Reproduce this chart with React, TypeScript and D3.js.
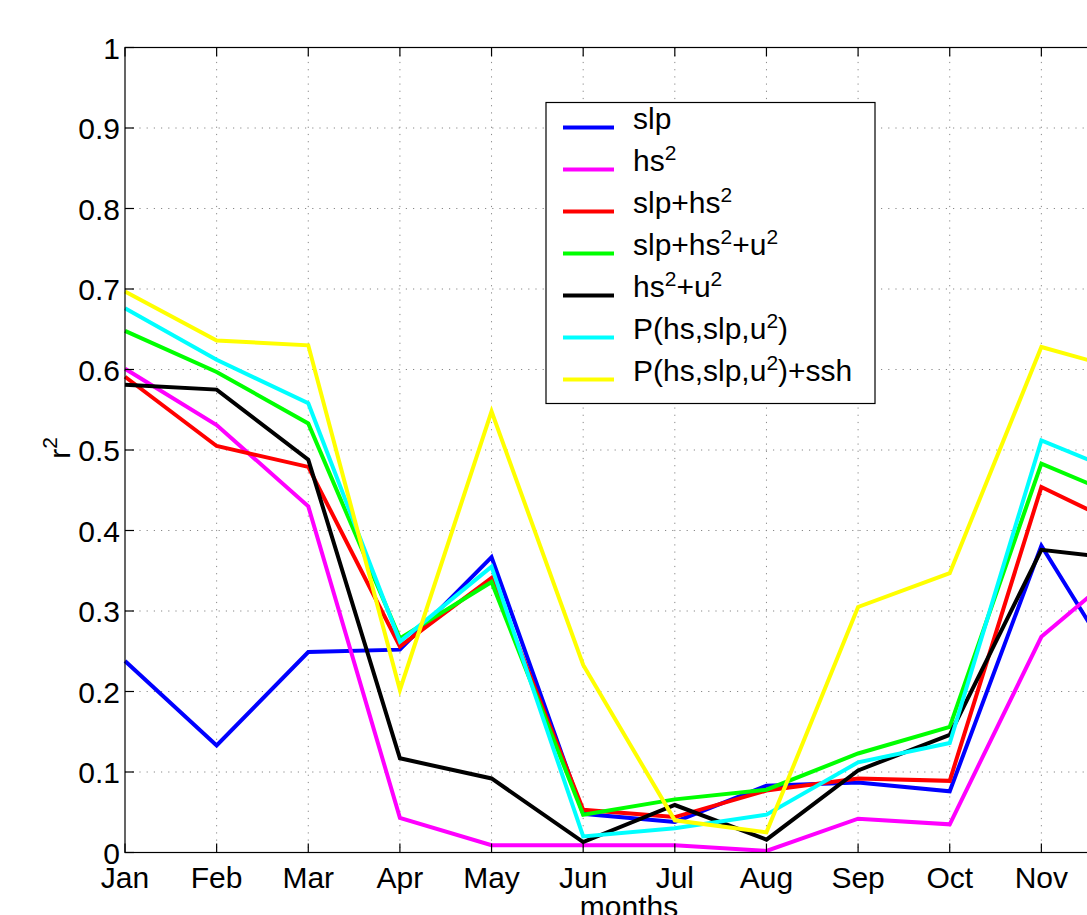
import React from "react";
import * as d3 from "d3";

const months = ["Jan", "Feb", "Mar", "Apr", "May", "Jun", "Jul", "Aug", "Sep", "Oct", "Nov", "Dec"];
const yTicks = [0, 0.1, 0.2, 0.3, 0.4, 0.5, 0.6, 0.7, 0.8, 0.9, 1];

const slp = [0.238, 0.133, 0.249, 0.252, 0.367, 0.048, 0.038, 0.083, 0.087, 0.076, 0.381, 0.197];
const hs2 = [0.601, 0.531, 0.43, 0.043, 0.009, 0.009, 0.009, 0.002, 0.042, 0.035, 0.268, 0.364];
const slpHs2 = [0.591, 0.505, 0.479, 0.256, 0.341, 0.053, 0.044, 0.077, 0.092, 0.089, 0.454, 0.399];
const slpHs2U2 = [0.648, 0.597, 0.533, 0.266, 0.336, 0.047, 0.066, 0.078, 0.123, 0.156, 0.483, 0.435];
const hs2U2 = [0.581, 0.575, 0.488, 0.117, 0.092, 0.013, 0.059, 0.016, 0.102, 0.146, 0.376, 0.363];
const pModel = [0.676, 0.612, 0.558, 0.262, 0.355, 0.02, 0.03, 0.047, 0.112, 0.136, 0.512, 0.465];
const pModelSsh = [0.697, 0.636, 0.63, 0.202, 0.548, 0.233, 0.04, 0.025, 0.305, 0.347, 0.628, 0.596];

// label parts: [text, isSuperscript]
const series = [
  { values: slp, color: "#0000ff", label: [["slp", false]] },
  { values: hs2, color: "#ff00ff", label: [["hs", false], ["2", true]] },
  { values: slpHs2, color: "#ff0000", label: [["slp+hs", false], ["2", true]] },
  { values: slpHs2U2, color: "#00ff00", label: [["slp+hs", false], ["2", true], ["+u", false], ["2", true]] },
  { values: hs2U2, color: "#000000", label: [["hs", false], ["2", true], ["+u", false], ["2", true]] },
  { values: pModel, color: "#00ffff", label: [["P(hs,slp,u", false], ["2", true], [")", false]] },
  { values: pModelSsh, color: "#ffff00", label: [["P(hs,slp,u", false], ["2", true], [")+ssh", false]] },
];

const W = 1087;
const H = 915;
const left = 125;
const right = 1133;
const top = 47.5;
const bottom = 852.5;
const font = "Helvetica, Arial, 'Liberation Sans', sans-serif";

export default function App() {
  const x = d3.scalePoint<string>().domain(months).range([left, right]);
  const y = d3.scaleLinear().domain([0, 1]).range([bottom, top]);
  const line = d3
    .line<number>()
    .x((_, i) => x(months[i]) as number)
    .y((d) => y(d));

  const lx = 546;
  const ly = 102.5;
  const rowH = 42;

  return (
    <svg
      width={W}
      height={H}
      style={{ position: "absolute", left: 0, top: 0, background: "#fff" }}
      fontFamily={font}
    >
      <rect width={W} height={H} fill="#fff" />
      {/* grid */}
      <g stroke="#888" strokeWidth={1} strokeDasharray="1.2,6">
        {months.slice(1).map((m) => (
          <line key={m} x1={x(m)} x2={x(m)} y1={top} y2={bottom} />
        ))}
        {yTicks.slice(1, -1).map((t) => (
          <line key={t} x1={left} x2={right} y1={y(t)} y2={y(t)} />
        ))}
      </g>
      {/* series */}
      <g fill="none" strokeWidth={4} strokeLinejoin="miter">
        {series.map((s) => (
          <path key={s.color} d={line(s.values) ?? ""} stroke={s.color} />
        ))}
      </g>
      {/* axes box */}
      <g stroke="#000" strokeWidth={1.2} fill="none">
        <rect x={left} y={top} width={right - left} height={bottom - top} />
        {yTicks.map((t) => (
          <line key={t} x1={left} x2={left + 9} y1={y(t)} y2={y(t)} />
        ))}
        {months.map((m) => (
          <g key={m}>
            <line x1={x(m)} x2={x(m)} y1={bottom} y2={bottom - 9} />
            <line x1={x(m)} x2={x(m)} y1={top} y2={top + 9} />
          </g>
        ))}
      </g>
      {/* tick labels */}
      <g fontSize={30} fill="#000">
        {yTicks.map((t) => (
          <text key={t} x={left - 5} y={y(t) + 11} textAnchor="end">
            {d3.format("~g")(t)}
          </text>
        ))}
        {months.map((m) => (
          <text key={m} x={x(m)} y={888} textAnchor="middle">
            {m}
          </text>
        ))}
        <text x={(left + right) / 2} y={917} textAnchor="middle">
          months
        </text>
        <text transform="translate(70,448) rotate(-90)" textAnchor="middle">
          r<tspan fontSize={21} dy={-13}>2</tspan>
        </text>
      </g>
      {/* legend */}
      <g>
        <rect x={lx} y={ly} width={329} height={301} fill="#fff" stroke="#000" strokeWidth={1.2} />
        {series.map((s, i) => {
          const yy = 127.5 + i * rowH;
          return (
            <g key={s.color}>
              <line x1={563} x2={614} y1={yy} y2={yy} stroke={s.color} strokeWidth={4} />
              <text x={633} y={yy + 1} fontSize={30} fill="#000">
                {s.label.map(([t, sup], j) => (
                  <tspan
                    key={j}
                    fontSize={sup ? 21 : 30}
                    dy={sup ? -11 : j > 0 ? 11 : 0}
                  >
                    {t as string}
                  </tspan>
                ))}
              </text>
            </g>
          );
        })}
      </g>
    </svg>
  );
}
